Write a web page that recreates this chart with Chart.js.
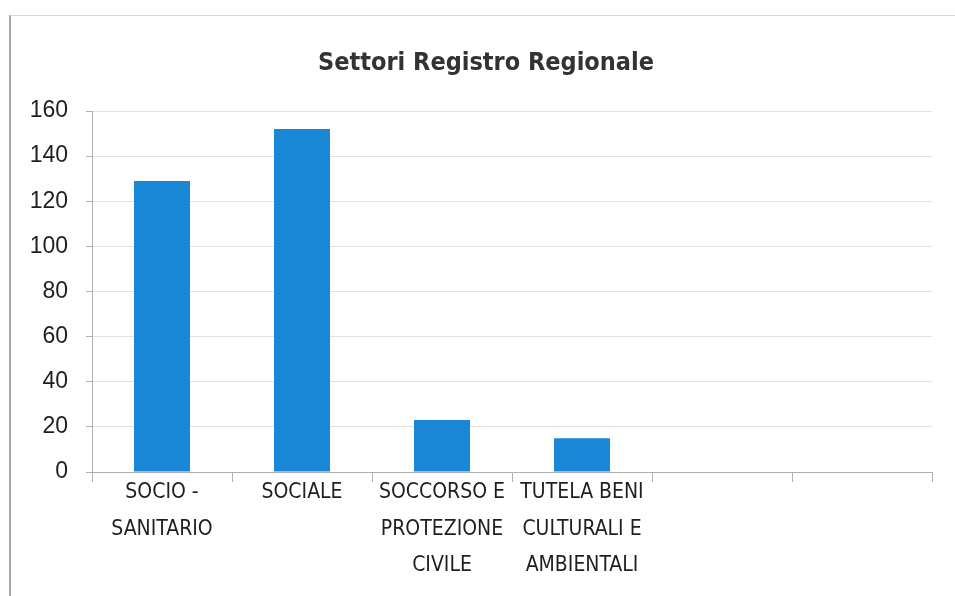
<!DOCTYPE html>
<html>
<head>
<meta charset="utf-8">
<script src="https://cdn.jsdelivr.net/npm/chart.js@4.4.1/dist/chart.umd.min.js"></script>
<style>
  html, body { margin: 0; padding: 0; background: #fff; }
  #wrap { position: relative; width: 955px; height: 596px; }
  #frame { position: absolute; left: 9px; top: 15px; width: 946px; height: 581px;
           border-left: 2px solid #a8a8a8; border-top: 1px solid #d8d8d8; }
  canvas { position: absolute; left: 0; top: 0; }
</style>
</head>
<body>
<div id="wrap">
  <div id="frame"></div>
  <canvas id="chart" width="955" height="596"></canvas>
</div>
<script>
// Categories (last two slots are empty in the original sheet)
const categories = [
    ['SOCIO -', 'SANITARIO'],
    'SOCIALE',
    ['SOCCORSO E', 'PROTEZIONE', 'CIVILE'],
    ['TUTELA BENI', 'CULTURALI E', 'AMBIENTALI'],
    '',
    ''
];
const values = [129, 152, 23, 15, null, null];
const yTicks = [0, 20, 40, 60, 80, 100, 120, 140, 160];
const titleText = 'Settori Registro Regionale';

const textColor = '#1f1f1f';
const condensed = '"Liberation Sans Narrow", "DejaVu Sans Condensed", "Liberation Sans", sans-serif';

// title sits a little left of the plot centre, like the Excel original
const titlePlugin = {
    id: 'offsetTitle',
    afterDraw(chart) {
        const c = chart.ctx;
        const area = chart.chartArea;
        c.save();
        c.font = 'bold 25px ' + condensed;
        c.fillStyle = '#333333';
        c.textAlign = 'center';
        c.textBaseline = 'middle';
        c.fillText(titleText, (area.left + area.right) / 2 - 26, area.top - 48);
        c.restore();
    }
};

const ctx = document.getElementById('chart').getContext('2d');
const chart = new Chart(ctx, {
    type: 'bar',
    data: {
        labels: categories,
        datasets: [{
            label: 'Settori',
            data: values,
            backgroundColor: '#1a86d6',
            borderWidth: 0,
            barPercentage: 0.4,
            categoryPercentage: 1
        }]
    },
    plugins: [titlePlugin],
    options: {
        responsive: false,
        animation: false,
        layout: { padding: { left: 10, right: 23, top: 111, bottom: 0 } },
        plugins: {
            legend: { display: false },
            tooltip: { enabled: false },
            title: { display: false }
        },
        scales: {
            x: {
                grid: {
                    drawOnChartArea: false,
                    drawTicks: true,
                    tickLength: 10,
                    tickColor: '#b0b0b0'
                },
                border: { color: '#b0b0b0' },
                ticks: {
                    color: textColor,
                    maxRotation: 0,
                    autoSkip: false,
                    padding: -8,
                    font: { family: condensed, size: 21, lineHeight: 1.75 }
                },
                afterFit: (scale) => { scale.height = 124; }
            },
            y: {
                min: 0,
                max: 160,
                afterBuildTicks: (scale) => { scale.ticks = yTicks.map(v => ({ value: v })); },
                grid: {
                    color: '#e2e2e2',
                    tickColor: '#b0b0b0',
                    tickLength: 6
                },
                border: { color: '#b0b0b0' },
                ticks: {
                    color: textColor,
                    padding: 18,
                    font: { family: '"Liberation Sans", sans-serif', size: 23 }
                },
                afterFit: (scale) => { scale.width = 82; }
            }
        }
    }
});
</script>
</body>
</html>
